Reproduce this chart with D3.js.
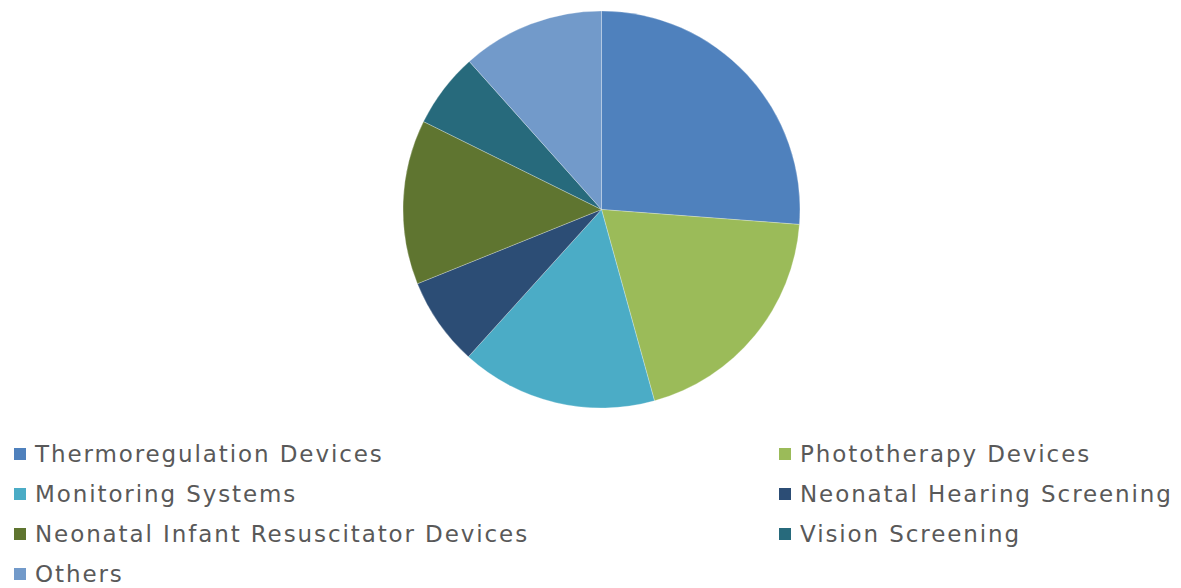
<!DOCTYPE html>
<html>
<head>
<meta charset="utf-8">
<script src="https://cdn.jsdelivr.net/npm/d3@7"></script>
<style>
  html, body { margin: 0; padding: 0; background: #fff; }
  svg { display: block; }
  .legend text { font-family: "DejaVu Sans", Verdana, sans-serif; fill: #595959; letter-spacing: 1.9px; }
</style>
</head>
<body>
<svg id="chart" width="1181" height="588"></svg>
<script>
// segment shares (%), clockwise from 12 o'clock
const categories = [
  "Thermoregulation Devices",
  "Phototherapy Devices",
  "Monitoring Systems",
  "Neonatal Hearing Screening",
  "Neonatal Infant Resuscitator Devices",
  "Vision Screening",
  "Others"
];
const shares = [26.2, 19.5, 16.0, 7.2, 13.4, 6.1, 11.6];
const colors = ["#4f81bd", "#9bbb59", "#4bacc6", "#2c4d75", "#5f7530", "#276a7c", "#729aca"];

const width = 1181, height = 588;
const cx = 601.5, cy = 209.5, radius = 198.5;

const svg = d3.select("#chart");
const data = categories.map((name, i) => ({ name, value: shares[i], color: colors[i] }));

const pie = d3.pie().value(d => d.value).sort(null);
const arc = d3.arc().innerRadius(0).outerRadius(radius);

svg.append("g")
  .attr("transform", `translate(${cx},${cy})`)
  .selectAll("path")
  .data(pie(data))
  .join("path")
  .attr("d", arc)
  .attr("fill", d => d.data.color)
  .attr("stroke", "rgba(255,255,255,0.45)")
  .attr("stroke-width", 0.6);

// legend: two columns, row-major
const colX = [14, 779];
const rowY = d3.scaleLinear().domain([0, 1]).range([454, 494]);

const item = svg.append("g")
  .attr("class", "legend")
  .selectAll("g")
  .data(data)
  .join("g")
  .attr("transform", (d, i) => `translate(${colX[i % 2]},${rowY(Math.floor(i / 2))})`);

item.append("rect")
  .attr("x", 0)
  .attr("y", -6)
  .attr("width", 12)
  .attr("height", 12)
  .attr("fill", d => d.color);

item.append("text")
  .attr("x", 21)
  .attr("dy", "0.36em")
  .attr("font-size", 23)
  .text(d => d.name);
</script>
</body>
</html>
